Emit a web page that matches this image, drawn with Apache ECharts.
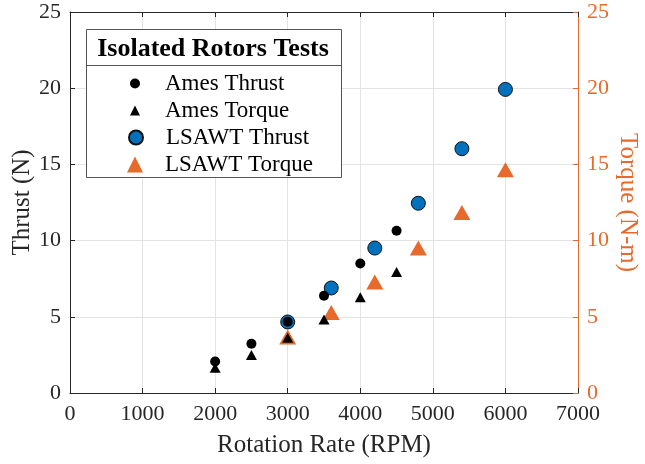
<!DOCTYPE html>
<html>
<head>
<meta charset="utf-8">
<script src="https://cdn.jsdelivr.net/npm/echarts@6/dist/echarts.min.js"></script>
<style>
  html, body { margin: 0; padding: 0; background: #fff; }
  #chart { width: 645px; height: 464px; }
</style>
</head>
<body>
<div id="chart"></div>
<script>
// Isolated rotor test data: thrust (N) and torque (N-m) vs rotation rate (RPM)
const amesRpm = [2000, 2500, 3000, 3500, 4000, 4500];
const amesThrust = [2.07, 3.23, 4.67, 6.38, 8.50, 10.65];
const amesTorque = [1.65, 2.50, 3.62, 4.82, 6.28, 7.94];

const lsawtRpm = [3000, 3600, 4200, 4800, 5400, 6000];
const lsawtThrust = [4.66, 6.89, 9.51, 12.45, 16.03, 19.92];
const lsawtTorque = [3.68, 5.29, 7.28, 9.51, 11.85, 14.65];

const xTicks = { min: 0, max: 7000, interval: 1000 };
const yTicks = { min: 0, max: 25, interval: 5 };

const legendTitle = 'Isolated Rotors Tests';
const seriesNames = ['Ames Thrust', 'Ames Torque', 'LSAWT Thrust', 'LSAWT Torque'];

const FONT = '"Liberation Serif", "Times New Roman", serif';
const BLUE = '#0072BD';
const ORANGE = '#E8692C';
const AXIS = '#262626';
const GRID = '#E3E3E3';

const pairs = (xs, ys) => xs.map((x, i) => [x, ys[i]]);
const plain = v => String(v);

const chart = echarts.init(document.getElementById('chart'), null, { renderer: 'canvas' });

const baseX = {
  type: 'value',
  min: xTicks.min, max: xTicks.max, interval: xTicks.interval,
  axisLine: { show: true, onZero: false, lineStyle: { color: AXIS, width: 1 } },
  axisTick: { show: true, inside: true, length: 5, lineStyle: { color: AXIS } },
};

// one legend per row so each marker keeps its own size
const legendRow = (name, rowY, size) => ({
  data: [name],
  left: 135 - size / 2, top: rowY - 10,
  orient: 'vertical',
  itemWidth: size, itemHeight: size,
  itemGap: 0,
  z: 60,
  selectedMode: false,
  textStyle: { fontFamily: FONT, fontSize: 23, color: '#000', padding: [0, 0, 0, 25 - size / 2] },
  padding: 0,
});

chart.setOption({
  animation: false,
  backgroundColor: '#fff',
  grid: { left: 70, right: 67, top: 12, bottom: 71, containLabel: false, outerBoundsMode: 'none' },
  xAxis: [
    Object.assign({}, baseX, {
      position: 'bottom',
      name: 'Rotation Rate (RPM)',
      nameLocation: 'middle',
      nameGap: 40,
      nameMoveOverlap: false,
      nameTextStyle: { fontFamily: FONT, fontSize: 25, color: AXIS },
      axisLabel: { fontFamily: FONT, fontSize: 22, color: AXIS, margin: 10, formatter: plain },
      splitLine: { show: true, lineStyle: { color: GRID, width: 1 } },
    }),
    Object.assign({}, baseX, {
      position: 'top',
      axisLabel: { show: false },
      splitLine: { show: false },
    }),
  ],
  yAxis: [
    {
      type: 'value',
      position: 'left',
      min: yTicks.min, max: yTicks.max, interval: yTicks.interval,
      name: 'Thrust (N)',
      nameLocation: 'middle',
      nameGap: 35,
      nameMoveOverlap: false,
      nameRotate: 90,
      nameTextStyle: { fontFamily: FONT, fontSize: 25, color: AXIS },
      axisLine: { show: true, onZero: false, lineStyle: { color: AXIS, width: 1 } },
      axisTick: { show: true, inside: true, length: 5, lineStyle: { color: AXIS } },
      axisLabel: { fontFamily: FONT, fontSize: 22, color: AXIS, margin: 9, formatter: plain },
      splitLine: { show: true, lineStyle: { color: GRID, width: 1 } },
    },
    {
      type: 'value',
      position: 'right',
      min: yTicks.min, max: yTicks.max, interval: yTicks.interval,
      name: 'Torque (N-m)',
      nameLocation: 'middle',
      nameGap: 37,
      nameMoveOverlap: false,
      nameRotate: -90,
      nameTextStyle: { fontFamily: FONT, fontSize: 25, color: ORANGE },
      axisLine: { show: true, onZero: false, lineStyle: { color: ORANGE, width: 1 } },
      axisTick: { show: true, inside: true, length: 5, lineStyle: { color: ORANGE } },
      axisLabel: { fontFamily: FONT, fontSize: 22, color: ORANGE, margin: 9, formatter: plain },
      splitLine: { show: false },
    },
  ],
  legend: [
    legendRow(seriesNames[0], 82, 10),
    legendRow(seriesNames[1], 109, 10),
    legendRow(seriesNames[2], 136, 14),
    legendRow(seriesNames[3], 163, 16),
  ],
  graphic: [
    {
      type: 'rect', z: 50,
      shape: { x: 86.5, y: 29.5, width: 255, height: 148 },
      style: { fill: '#fff', stroke: '#555', lineWidth: 1 },
    },
    {
      type: 'line', z: 51,
      shape: { x1: 86.5, y1: 65.5, x2: 341.5, y2: 65.5 },
      style: { stroke: '#555', lineWidth: 1 },
    },
    {
      type: 'text', z: 51,
      x: 213, y: 49,
      style: {
        text: legendTitle,
        font: 'bold 26px ' + FONT,
        fill: '#000',
        align: 'center',
        verticalAlign: 'middle',
      },
    },
  ],
  series: [
    {
      name: seriesNames[2], type: 'scatter', xAxisIndex: 0, yAxisIndex: 0,
      data: pairs(lsawtRpm, lsawtThrust),
      symbol: 'circle', symbolSize: 14, z: 2,
      itemStyle: { color: BLUE, borderColor: '#111', borderWidth: 1, opacity: 1 },
    },
    {
      name: seriesNames[3], type: 'scatter', xAxisIndex: 0, yAxisIndex: 1,
      data: pairs(lsawtRpm, lsawtTorque),
      symbol: 'triangle', symbolSize: [17, 15], z: 2,
      itemStyle: { color: ORANGE, opacity: 1 },
    },
    {
      name: seriesNames[0], type: 'scatter', xAxisIndex: 0, yAxisIndex: 0,
      data: pairs(amesRpm, amesThrust),
      symbol: 'circle', symbolSize: 10, z: 3,
      itemStyle: { color: '#000', opacity: 1 },
    },
    {
      name: seriesNames[1], type: 'scatter', xAxisIndex: 0, yAxisIndex: 0,
      data: pairs(amesRpm, amesTorque),
      symbol: 'triangle', symbolSize: [11, 10], z: 3,
      itemStyle: { color: '#000', opacity: 1 },
    },
  ],
});
</script>
</body>
</html>
